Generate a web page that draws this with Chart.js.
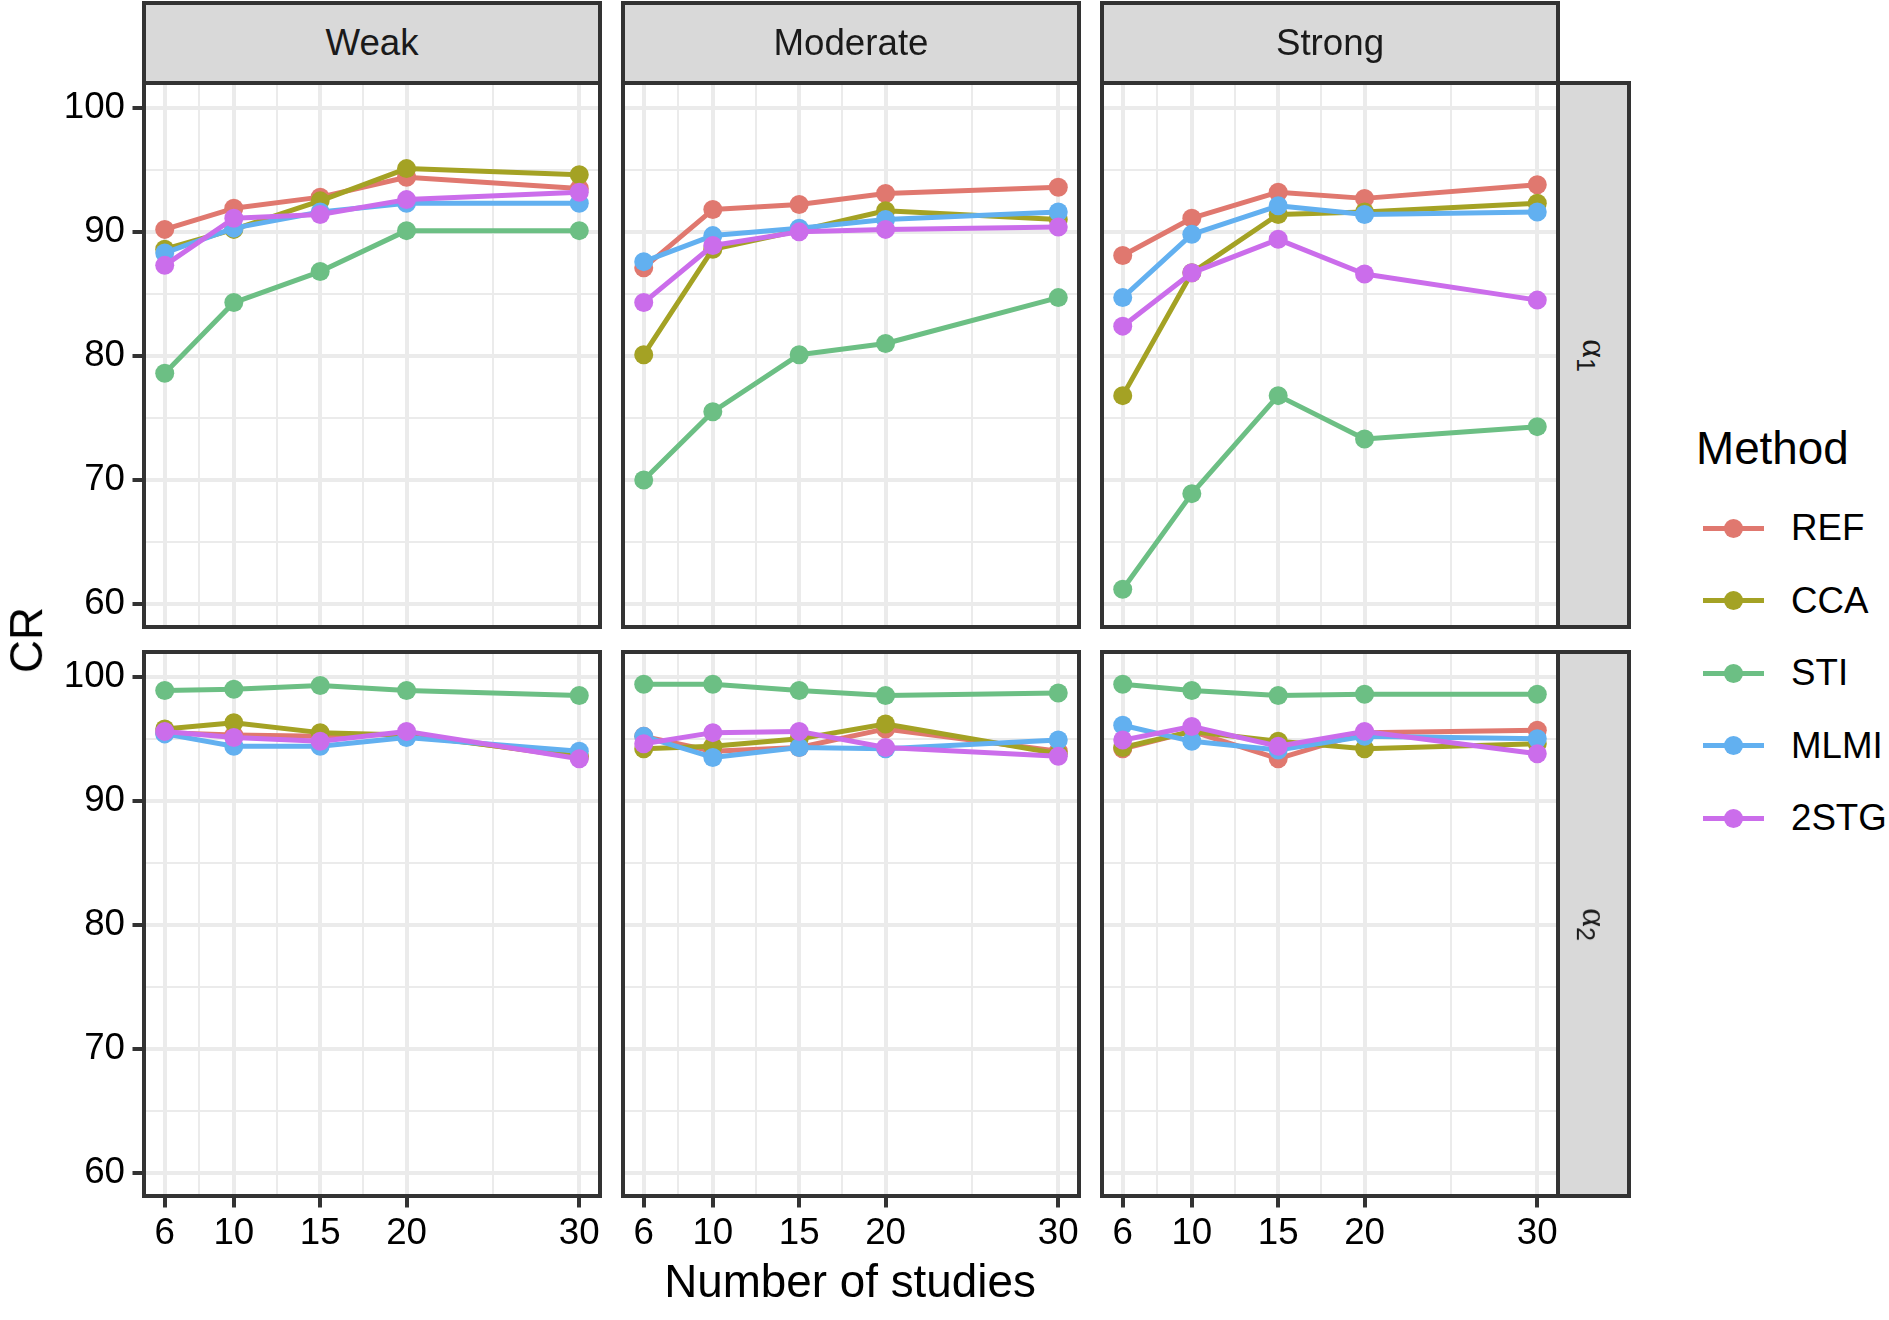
<!DOCTYPE html>
<html>
<head>
<meta charset="utf-8">
<script src="https://cdn.jsdelivr.net/npm/chart.js@4.4.1/dist/chart.umd.min.js"></script>
<style>
html,body{margin:0;padding:0;background:#fff;}
#root{position:relative;width:1889px;height:1320px;overflow:hidden;background:#fff;font-family:"Liberation Sans",Arial,Helvetica,sans-serif;color:#000;}
canvas{position:absolute;}
.strip{position:absolute;background:#D9D9D9;border:4px solid #333333;box-sizing:border-box;display:flex;align-items:center;justify-content:center;color:#1A1A1A;font-size:36.7px;}
.rlab{transform:rotate(90deg);white-space:nowrap;font-family:"Liberation Serif","DejaVu Serif",serif;font-size:36px;color:#1A1A1A;}
.rlab sub{font-size:25px;font-family:"Liberation Sans",Arial,sans-serif;vertical-align:-6px;}
.txt{position:absolute;white-space:nowrap;}
.key-line{position:absolute;height:5px;}
.key-dot{position:absolute;width:19px;height:19px;border-radius:50%;}
</style>
</head>
<body>
<div id="root"></div>
<script>
// ---------------- data ----------------
const studies = [6, 10, 15, 20, 30];
const strengths = ['Weak', 'Moderate', 'Strong'];
const methods = ['REF', 'CCA', 'STI', 'MLMI', '2STG'];
const rowSubscripts = ['1', '2'];
const xMajorTicks = [6, 10, 15, 20, 30];
const xMinorTicks = [8, 12.5, 17.5, 25];
const yMajorTicks = [60, 70, 80, 90, 100];
const yMinorTicks = [65, 75, 85, 95];

// alpha_1 row: per method, [Weak, Moderate, Strong], each over studies
const a1_REF  = [[90.2, 91.9, 92.8, 94.4, 93.5], [87.1, 91.8, 92.2, 93.1, 93.6], [88.1, 91.1, 93.2, 92.7, 93.8]];
const a1_CCA  = [[88.6, 90.2, 92.5, 95.1, 94.6], [80.1, 88.6, 90.1, 91.7, 91.0], [76.8, 86.7, 91.4, 91.6, 92.3]];
const a1_STI  = [[78.6, 84.3, 86.8, 90.1, 90.1], [70.0, 75.5, 80.1, 81.0, 84.7], [61.2, 68.9, 76.8, 73.3, 74.3]];
const a1_MLMI = [[88.3, 90.3, 91.6, 92.3, 92.3], [87.6, 89.7, 90.3, 91.0, 91.6], [84.7, 89.8, 92.1, 91.4, 91.6]];
const a1_2STG = [[87.3, 91.1, 91.4, 92.6, 93.2], [84.3, 88.9, 90.0, 90.2, 90.4], [82.4, 86.7, 89.4, 86.6, 84.5]];

// alpha_2 row
const a2_REF  = [[95.5, 95.3, 95.2, 95.4, 93.5], [95.2, 94.0, 94.3, 95.8, 94.0], [94.2, 95.6, 93.4, 95.5, 95.7]];
const a2_CCA  = [[95.8, 96.3, 95.5, 95.3, 93.6], [94.2, 94.4, 95.0, 96.2, 93.8], [94.3, 95.6, 94.8, 94.2, 94.6]];
const a2_STI  = [[98.9, 99.0, 99.3, 98.9, 98.5], [99.4, 99.4, 98.9, 98.5, 98.7], [99.4, 98.9, 98.5, 98.6, 98.6]];
const a2_MLMI = [[95.4, 94.4, 94.4, 95.1, 94.0], [95.2, 93.5, 94.3, 94.2, 94.9], [96.1, 94.8, 94.1, 95.2, 95.0]];
const a2_2STG = [[95.6, 95.1, 94.8, 95.6, 93.4], [94.6, 95.5, 95.6, 94.3, 93.6], [94.9, 96.0, 94.4, 95.6, 93.8]];

const rowsData = [
  [a1_REF, a1_CCA, a1_STI, a1_MLMI, a1_2STG],
  [a2_REF, a2_CCA, a2_STI, a2_MLMI, a2_2STG]
];

const colors = ['#E0786F', '#A4A224', '#6CBF84', '#62B0F0', '#CB6DEB'];

// ---------------- layout ----------------
const FONT = '"Liberation Sans", Arial, Helvetica, sans-serif';
const colLeft = [144, 623, 1102];
const panelW = 456;
const rowTop = [83, 652];
const panelH = 544;
const stripTop = 1;
const rStripW = 71;
const root = document.getElementById('root');

function addDiv(cls, style, html) {
  const d = document.createElement('div');
  d.className = cls;
  Object.assign(d.style, style);
  if (html !== undefined) d.innerHTML = html;
  root.appendChild(d);
  return d;
}

const borderPlugin = {
  id: 'panelBorder',
  afterDraw(chart) {
    const { ctx, chartArea: a } = chart;
    ctx.save();
    ctx.strokeStyle = '#333333';
    ctx.lineWidth = 4;
    ctx.strokeRect(a.left, a.top, a.right - a.left, a.bottom - a.top);
    ctx.restore();
  }
};

const xAll = xMajorTicks.concat(xMinorTicks).sort((a, b) => a - b);
const yAll = yMajorTicks.concat(yMinorTicks).sort((a, b) => a - b);

for (let r = 0; r < 2; r++) {
  for (let c = 0; c < 3; c++) {
    const padL = c === 0 ? 144 : 4;
    const padB = r === 1 ? 70 : 4;
    const padR = 25, padT = 4;
    const W = padL + panelW + padR;
    const H = padT + panelH + padB;
    const cv = document.createElement('canvas');
    cv.width = W; cv.height = H;
    cv.style.width = W + 'px'; cv.style.height = H + 'px';
    cv.style.left = (colLeft[c] - padL) + 'px';
    cv.style.top = (rowTop[r] - padT) + 'px';
    root.appendChild(cv);

    const datasets = methods.map((m, i) => ({
      label: m,
      data: studies.map((x, j) => ({ x: x, y: rowsData[r][i][c][j] })),
      borderColor: colors[i],
      backgroundColor: colors[i],
      borderWidth: 5,
      borderJoinStyle: 'round',
      pointRadius: 9.5,
      pointHoverRadius: 9.5,
      pointBorderWidth: 0,
      pointStyle: 'circle',
      tension: 0,
      order: methods.length - i,
      clip: false
    }));

    new Chart(cv, {
      type: 'line',
      data: { datasets },
      options: {
        responsive: false,
        animation: false,
        events: [],
        devicePixelRatio: 1,
        layout: { autoPadding: false, padding: { left: c === 0 ? 0 : 4, right: padR, top: padT, bottom: r === 1 ? 0 : 4 } },
        plugins: { legend: { display: false }, tooltip: { enabled: false } },
        scales: {
          x: {
            type: 'linear',
            min: 4.8, max: 31.2,
            afterBuildTicks: s => { s.ticks = xAll.map(v => ({ value: v })); },
            afterFit: s => { s.height = r === 1 ? 70 : 0; s.paddingLeft = 0; s.paddingRight = 0; s.paddingTop = 0; s.paddingBottom = 0; },
            border: { display: false },
            grid: {
              color: '#EBEBEB',
              lineWidth: ctx => (ctx.tick && xMajorTicks.includes(ctx.tick.value)) ? 4 : 2,
              drawTicks: r === 1,
              tickLength: 11.5,
              tickWidth: 4,
              tickColor: ctx => (ctx.tick && xMajorTicks.includes(ctx.tick.value)) ? '#333333' : 'rgba(0,0,0,0)'
            },
            ticks: {
              display: r === 1,
              autoSkip: false,
              maxRotation: 0,
              minRotation: 0,
              padding: 4.5,
              color: '#000000',
              font: { size: 36.7, family: FONT },
              callback: v => xMajorTicks.includes(v) ? String(v) : ''
            }
          },
          y: {
            type: 'linear',
            min: 58.15, max: 102.0,
            afterBuildTicks: s => { s.ticks = yAll.map(v => ({ value: v })); },
            afterFit: s => { s.width = c === 0 ? 144 : 0; s.paddingTop = 0; s.paddingBottom = 0; s.paddingLeft = 0; s.paddingRight = 0; },
            border: { display: false },
            grid: {
              color: '#EBEBEB',
              lineWidth: ctx => (ctx.tick && yMajorTicks.includes(ctx.tick.value)) ? 4 : 2,
              drawTicks: c === 0,
              tickLength: 11.5,
              tickWidth: 4,
              tickColor: ctx => (ctx.tick && yMajorTicks.includes(ctx.tick.value)) ? '#333333' : 'rgba(0,0,0,0)'
            },
            ticks: {
              display: c === 0,
              autoSkip: false,
              padding: 7.5,
              color: '#000000',
              font: { size: 36.7, family: FONT },
              callback: v => yMajorTicks.includes(v) ? String(v) : ''
            }
          }
        }
      },
      plugins: [borderPlugin]
    });
  }
}

// top strips
strengths.forEach((s, c) => {
  addDiv('strip', {
    left: (colLeft[c] - 2) + 'px', top: stripTop + 'px',
    width: (panelW + 4) + 'px', height: (rowTop[0] - stripTop + 2) + 'px'
  }, s);
});
// right strips
rowSubscripts.forEach((sub, r) => {
  const st = addDiv('strip', {
    left: (colLeft[2] + panelW - 2) + 'px', top: (rowTop[r] - 2) + 'px',
    width: (rStripW + 4) + 'px', height: (panelH + 4) + 'px'
  });
  const lab = document.createElement('div');
  lab.className = 'rlab';
  lab.innerHTML = 'α<sub>' + sub + '</sub>';
  st.appendChild(lab);
});

// axis titles
addDiv('txt', { left: '26.5px', top: '640px', fontSize: '45.8px', transform: 'translate(-50%,-50%) rotate(-90deg)', lineHeight: '1' }, 'CR');
addDiv('txt', { left: '850px', top: '1282px', fontSize: '45.8px', transform: 'translate(-50%,-50%)', lineHeight: '1' }, 'Number of studies');

// legend
addDiv('txt', { left: '1696px', top: (449 - 30) + 'px', height: '60px', lineHeight: '60px', fontSize: '45.8px' }, 'Method');
methods.forEach((m, i) => {
  const cy = 528 + 72.6 * i;
  addDiv('key-line', { left: '1703px', width: '61px', top: (cy - 2.5) + 'px', background: colors[i] });
  addDiv('key-dot', { left: (1733.5 - 9.5) + 'px', top: (cy - 9.5) + 'px', background: colors[i] });
  addDiv('txt', { left: '1791px', top: (cy - 25) + 'px', height: '50px', lineHeight: '50px', fontSize: '36.7px' }, m);
});
</script>
</body>
</html>
